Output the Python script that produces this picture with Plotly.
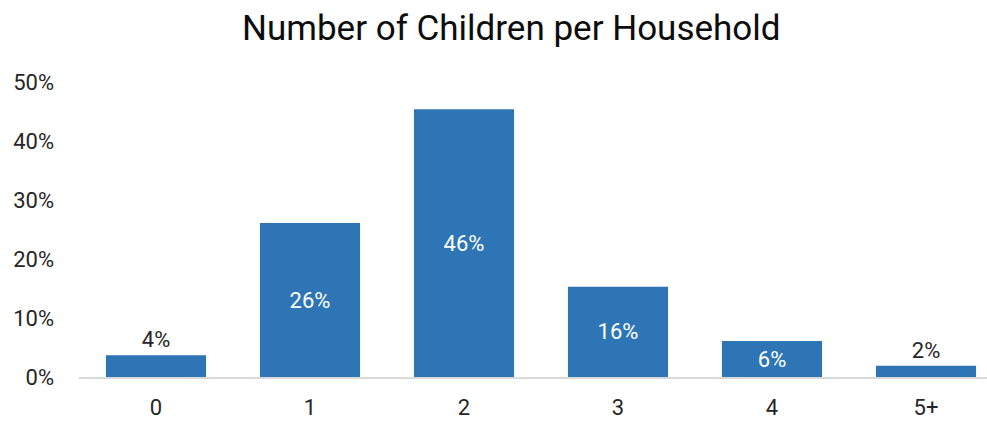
import plotly.graph_objects as go

categories = ["0", "1", "2", "3", "4", "5+"]
shares = [0.037, 0.261, 0.454, 0.153, 0.061, 0.019]
labels = ["4%", "26%", "46%", "16%", "6%", "2%"]
label_pos = ["outside", "inside", "inside", "inside", "inside", "outside"]
y_ticks = [0, 0.1, 0.2, 0.3, 0.4, 0.5]
y_ticklabels = ["0%", "10%", "20%", "30%", "40%", "50%"]

FONT = "Roboto, Liberation Sans, sans-serif"

fig = go.Figure(go.Bar(
    x=list(range(len(categories))),
    y=shares,
    text=labels,
    textposition=label_pos,
    insidetextanchor="middle",
    outsidetextfont=dict(family=FONT, size=22, color="#262626"),
    insidetextfont=dict(family=FONT, size=22, color="white"),
    constraintext="none",
    cliponaxis=False,
    marker=dict(color="#2E75B6", line=dict(width=0)),
    hoverinfo="skip",
))

fig.update_layout(
    width=987, height=423,
    margin=dict(l=79, r=0, t=82, b=46),
    paper_bgcolor="white", plot_bgcolor="white",
    bargap=0.35,
    showlegend=False,
    font=dict(family=FONT, color="#262626"),
    title=dict(
        text="Number of Children per Household",
        font=dict(family=FONT, size=35, color="#0d0d0d"),
        x=0.518, xanchor="center", y=0.935, yanchor="middle",
    ),
    xaxis=dict(
        tickmode="array",
        tickvals=list(range(len(categories))),
        ticktext=categories,
        range=[-0.5, 5.396],
        showgrid=False, zeroline=False,
        showline=True, linecolor="#d9d9d9", linewidth=1.5,
        ticks="", tickfont=dict(family=FONT, size=22, color="#262626"),
        ticklabelstandoff=10,
    ),
    yaxis=dict(
        range=[0, 0.5],
        tickmode="array",
        tickvals=y_ticks,
        ticktext=y_ticklabels,
        showgrid=False, zeroline=False, showline=False,
        ticks="", tickfont=dict(family=FONT, size=22, color="#262626"),
        ticklabelstandoff=24,
    ),
)

fig.write_html("out.html", config={"displayModeBar": False},
               post_script="document.body.style.margin='0';")
